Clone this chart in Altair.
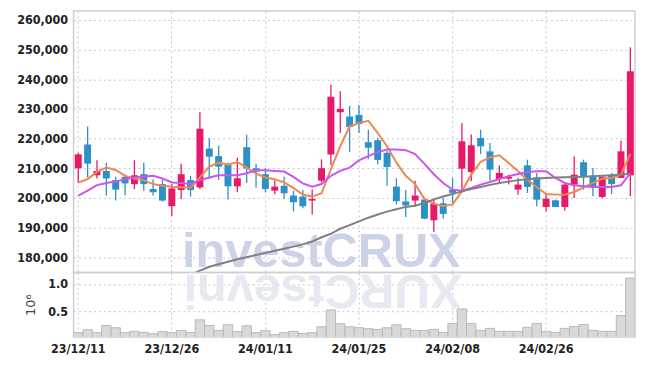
import altair as alt
import pandas as pd

dates = [
    "23/12/11", "23/12/12", "23/12/13", "23/12/14", "23/12/15",
    "23/12/18", "23/12/19", "23/12/20", "23/12/21", "23/12/22",
    "23/12/26", "23/12/27", "23/12/28",
    "24/01/02", "24/01/03", "24/01/04", "24/01/05",
    "24/01/08", "24/01/09", "24/01/10", "24/01/11", "24/01/12",
    "24/01/15", "24/01/16", "24/01/17", "24/01/18", "24/01/19",
    "24/01/22", "24/01/23", "24/01/24", "24/01/25", "24/01/26",
    "24/01/29", "24/01/30", "24/01/31", "24/02/01", "24/02/02",
    "24/02/05", "24/02/06", "24/02/07", "24/02/08",
    "24/02/13", "24/02/14", "24/02/15", "24/02/16",
    "24/02/19", "24/02/20", "24/02/21", "24/02/22", "24/02/23",
    "24/02/26", "24/02/27", "24/02/28", "24/02/29",
    "24/03/04", "24/03/05", "24/03/06", "24/03/07", "24/03/08",
    "24/03/11",
]

opens = [210000, 218000, 207650, 209100, 206000, 207100, 204650, 208000, 203000, 204650,
         197200, 202650, 206000, 203550, 216650, 214100, 211100, 203900, 217100, 210000,
         208000, 202450, 204100, 200800, 200450, 199100, 205800, 214650, 228900, 227450,
         228000, 218800, 219450, 215200, 203800, 198800, 199100, 199450, 192450, 198200,
         202800, 209850, 208750, 220200, 215700, 206400, 206500, 202800, 211000, 206950,
         196950, 199200, 196950, 204500, 212000, 207500, 200300, 207600, 206750, 207600]

closes = [214700, 211550, 209100, 206550, 202800, 204900, 207650, 204650, 201900, 199100,
          203200, 208000, 202650, 223350, 213900, 210550, 203900, 206650, 209900, 208900,
          203000, 203800, 201550, 198550, 197200, 199650, 210000, 234100, 230000, 223900,
          224900, 216900, 212800, 210450, 198900, 197450, 200800, 193000, 198000, 194600,
          201700, 219100, 217750, 217400, 209550, 208400, 207050, 204500, 203700, 199400,
          199750, 196950, 204500, 207850, 207050, 203700, 207050, 204700, 215700, 242700]

highs = [215200, 224100, 212700, 211900, 207100, 207900, 212700, 211900, 206300, 206100,
         204700, 211550, 207450, 228900, 220200, 217650, 211900, 213550, 221300, 211500,
         210000, 206000, 207100, 202450, 202650, 202800, 213000, 238200, 236000, 231100,
         231300, 223000, 220200, 215800, 206650, 202650, 205800, 199450, 199650, 200000,
         206750, 225250, 221350, 223000, 218550, 210900, 207850, 206750, 212900, 208400,
         201650, 199450, 205050, 214000, 212900, 210100, 207500, 208400, 219300, 250800]

lows = [205200, 206900, 206550, 200800, 199100, 200800, 203000, 202450, 200800, 198800,
        193900, 199650, 200450, 203000, 206350, 206100, 199450, 201900, 205000, 203500,
        201900, 201350, 199650, 195450, 196550, 194450, 205200, 211100, 221900, 215550,
        221900, 213000, 211350, 204100, 197800, 193550, 196900, 192800, 188500, 193000,
        197700, 201650, 205600, 214800, 205750, 205400, 204500, 201100, 201650, 197150,
        195500, 196950, 195700, 200000, 202800, 200550, 199950, 201350, 206750, 200550]

# volume in millions (axis title 10^6)
volumes = [0.11, 0.164, 0.11, 0.242, 0.20, 0.11, 0.134, 0.115, 0.092, 0.128,
           0.11, 0.152, 0.115, 0.345, 0.242, 0.152, 0.254, 0.128, 0.236, 0.11,
           0.146, 0.074, 0.11, 0.134, 0.097, 0.11, 0.218, 0.525, 0.272, 0.218,
           0.20, 0.182, 0.17, 0.20, 0.254, 0.182, 0.152, 0.152, 0.17, 0.115,
           0.278, 0.543, 0.278, 0.152, 0.188, 0.134, 0.134, 0.134, 0.206, 0.278,
           0.134, 0.115, 0.188, 0.224, 0.26, 0.152, 0.134, 0.134, 0.422, 1.108]

ma5 = [205200, 206330, 208780, 210220, 209440, 207440, 206560, 206000, 204670, 204110,
       203780, 203560, 203440, 206890, 210560, 211890, 211220, 212110, 210220, 208200,
       206890, 206330, 205220, 203330, 201110, 200450, 201560, 209670, 217440, 224110,
       225220, 226000, 221890, 217440, 211890, 207440, 204670, 199670, 198000, 197300,
       197800, 202230, 207850, 212120, 213700, 214370, 211780, 208970, 206160, 203580,
       201330, 201110, 201110, 202000, 203580, 205040, 206500, 206730, 207850, 214820]

ma10 = [200780, 202450, 204330, 205000, 205560, 206330, 206890, 207220, 207450, 206560,
        205220, 205000, 204670, 206000, 206890, 207670, 207670, 207670, 208330, 209300,
        209330, 209110, 208890, 207110, 204890, 203780, 204670, 207440, 209110, 210220,
        212670, 214110, 215440, 216330, 216330, 216110, 214800, 211500, 208000, 205000,
        202800, 202450, 203350, 204480, 205380, 206390, 207290, 208070, 208750, 208970,
        208970, 206730, 205040, 204250, 203920, 203690, 203690, 203690, 204250, 208410]

ma_long = [None] * 12 + [
    174000, 175500, 176790, 177640, 178490, 179290, 180000, 180720,
    181470, 182180, 182870, 183570, 184330, 185280, 186730, 187900, 189610, 190820,
    192100, 193330, 194400, 195370, 196200, 196970, 197380, 198300, 199500, 200500,
    201300, 202200, 203000, 203700, 204400, 205000, 205500, 206000, 206300, 206550,
    206700, 206850, 206950, 207050, 207150, 207300, 207450, 207650, 207900, 208150]

label_dates = ["23/12/11", "23/12/26", "24/01/11", "24/01/25", "24/02/08", "24/02/26"]
price_ticks = [180000, 190000, 200000, 210000, 220000, 230000, 240000, 250000, 260000]
volume_ticks = [0.5, 1.0]
watermark = "investCRUX"

df = pd.DataFrame({
    "date": dates, "open": opens, "high": highs, "low": lows, "close": closes,
    "volume": volumes, "ma5": ma5, "ma10": ma10, "malong": ma_long,
})
df["dir"] = ["up" if c >= o else "down" for o, c in zip(opens, closes)]

PINK = "#e6196a"
BLUE = "#2d91c8"
ORANGE = "#ee8850"
PURPLE = "#cc55ee"
GRAY = "#808080"
GRID = "#c4c6d4"
FONT = "DejaVu Sans Condensed, Liberation Sans Narrow, Roboto Condensed, Roboto"
FS = 12.5
W, H1, H2 = 565, 263, 65

xscale = alt.Scale(domain=dates, paddingInner=0, paddingOuter=0)

x_price = alt.X("date:O", scale=xscale, sort=None,
                axis=alt.Axis(values=label_dates, labels=False, ticks=False, domain=False,
                              title=None, grid=True, gridDash=[2, 3], gridColor=GRID,
                              bandPosition=0.5))
x_vol = alt.X("date:O", scale=xscale, sort=None,
              axis=alt.Axis(values=label_dates, labelAngle=0, ticks=False, domain=False,
                            title=None, grid=True, gridDash=[2, 3], gridColor=GRID,
                            bandPosition=0.5, labelFont=FONT, labelFontWeight="bold",
                            labelFontSize=FS, labelColor="#222222", labelPadding=6,
                            labelOverlap=False))

yscale = alt.Scale(domain=[174870, 263000], nice=False, zero=False)
y_axis = alt.Axis(values=price_ticks, format=",d", title=None, grid=True, gridDash=[2, 3],
                  gridColor=GRID, ticks=False, domain=False, labelFont=FONT,
                  labelFontWeight="bold", labelFontSize=FS, labelColor="#222222",
                  labelPadding=6, labelOverlap=False, tickCount=9)

color = alt.Color("dir:N", scale=alt.Scale(domain=["up", "down"], range=[PINK, BLUE]),
                  legend=None)

base = alt.Chart(df)

wm = alt.Chart(pd.DataFrame({"t": [watermark]})).mark_text(
    font="Liberation Sans", fontWeight="bold", fontSize=49, align="left",
    baseline="alphabetic", color="#ccd3e6"
).encode(x=alt.value(109), y=alt.value(258), text="t:N")

wicks = base.mark_rule(strokeWidth=1.3).encode(
    x=x_price,
    y=alt.Y("low:Q", scale=yscale, axis=y_axis),
    y2="high:Q",
    color=color,
)
bodies = base.mark_bar(width=7).encode(
    x=x_price,
    y=alt.Y("open:Q", scale=yscale, axis=y_axis),
    y2="close:Q",
    color=color,
)
line5 = base.mark_line(color=ORANGE, strokeWidth=2).encode(
    x=x_price, y=alt.Y("ma5:Q", scale=yscale, axis=y_axis))
line10 = base.mark_line(color=PURPLE, strokeWidth=2).encode(
    x=x_price, y=alt.Y("ma10:Q", scale=yscale, axis=y_axis))
linelong = base.mark_line(color=GRAY, strokeWidth=2, clip=True).encode(
    x=x_price, y=alt.Y("malong:Q", scale=yscale, axis=y_axis))

price = alt.layer(wm, wicks, bodies, line5, line10, linelong).properties(width=W, height=H1)

wm_ref = alt.Chart(pd.DataFrame({"t": [watermark[::-1]]})).mark_text(
    font="Liberation Sans", fontWeight="bold", fontSize=49, align="left",
    baseline="alphabetic", angle=180, color="#e6e8f2"
).encode(x=alt.value(391), y=alt.value(3), text="t:N")

vbars = base.mark_bar(color="#d9d9d9", stroke="#b9b9b9", strokeWidth=1, clip=True).encode(
    x=x_vol,
    y=alt.Y("volume:Q", scale=alt.Scale(domain=[0.03, 1.21], nice=False, zero=False),
            axis=alt.Axis(values=volume_ticks, format=".1f", title="10⁶", grid=True,
                          gridDash=[2, 3], gridColor=GRID, ticks=False, domain=False,
                          labelFont=FONT, labelFontWeight="bold", labelFontSize=FS,
                          labelColor="#222222", labelPadding=6, labelOverlap=False,
                          titleFont="DejaVu Sans", titleFontWeight="normal",
                          titleFontSize=13, titleColor="#444444", titlePadding=10)),
)
volume = alt.layer(wm_ref, vbars).properties(width=W, height=H2)

chart = alt.vconcat(price, volume, spacing=0, bounds="flush").properties(
    padding={"left": 8, "top": 1, "right": 1, "bottom": 2}
).configure_view(stroke="#cfcfcf", strokeWidth=1.5)

chart.save("out.html", embed_options={"renderer": "svg", "actions": False})
